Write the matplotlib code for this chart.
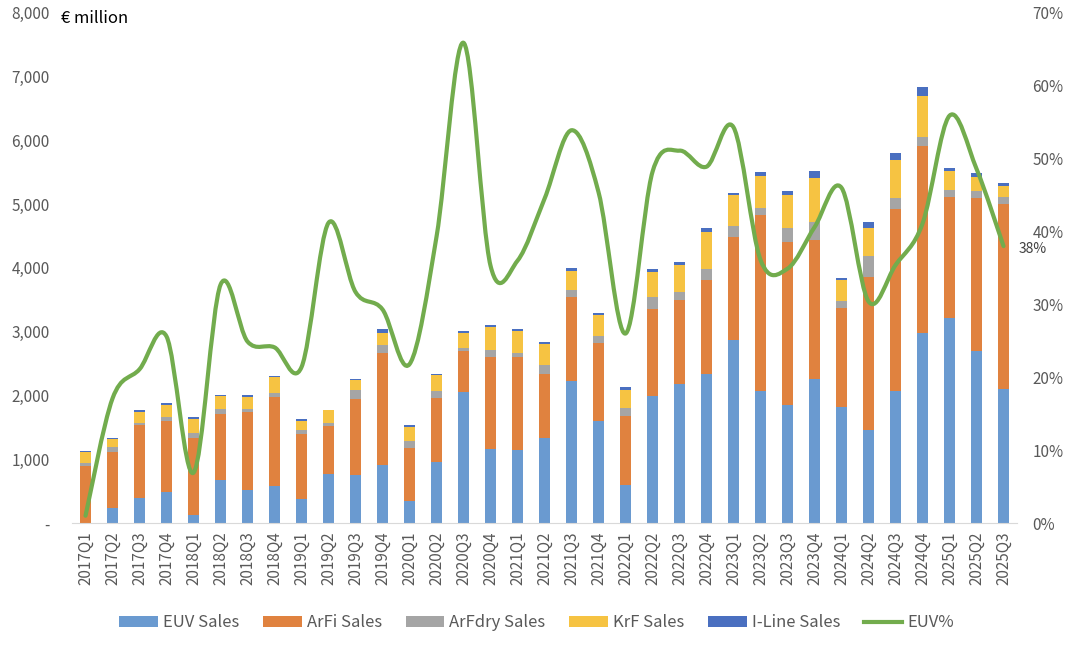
import numpy as np
import matplotlib.pyplot as plt
from matplotlib.path import Path
from matplotlib.patches import PathPatch
from matplotlib.lines import Line2D
from matplotlib.ticker import FuncFormatter

plt.rcParams['font.family'] = ['Noto Sans CJK SC', 'DejaVu Sans']

# Quarterly lithography system sales (€ million)
quarters = ['2017Q1', '2017Q2', '2017Q3', '2017Q4', '2018Q1', '2018Q2', '2018Q3', '2018Q4',
            '2019Q1', '2019Q2', '2019Q3', '2019Q4', '2020Q1', '2020Q2', '2020Q3', '2020Q4',
            '2021Q1', '2021Q2', '2021Q3', '2021Q4', '2022Q1', '2022Q2', '2022Q3', '2022Q4',
            '2023Q1', '2023Q2', '2023Q3', '2023Q4', '2024Q1', '2024Q2', '2024Q3', '2024Q4',
            '2025Q1', '2025Q2', '2025Q3']

euv = [0, 230, 385, 487, 120, 676, 525, 585, 373, 763, 746, 914, 346, 963, 2055, 1157,
       1141, 1330, 2228, 1595, 595, 1990, 2185, 2336, 2877, 2071, 1855, 2261, 1812, 1460,
       2071, 2985, 3218, 2693, 2109]
arfi = [900, 885, 1150, 1110, 1215, 1030, 1215, 1385, 1017, 762, 1196, 1747, 838, 995, 644,
        1444, 1466, 1006, 1320, 1223, 1076, 1374, 1314, 1471, 1612, 2753, 2547, 2174, 1557,
        2391, 2851, 2921, 1893, 2407, 2894]
arfdry = [40, 70, 40, 65, 70, 80, 55, 70, 65, 38, 150, 135, 109, 119, 38, 119, 59, 146, 113,
          108, 135, 173, 130, 184, 162, 114, 217, 281, 119, 340, 178, 151, 119, 108, 108]
krf = [170, 125, 165, 190, 225, 205, 180, 245, 150, 205, 146, 180, 205, 243, 248, 352, 346,
       325, 298, 341, 282, 406, 422, 574, 487, 508, 530, 692, 319, 428, 590, 638, 286, 222, 168]
iline = [20, 20, 30, 30, 40, 20, 27, 20, 27, 11, 27, 65, 38, 22, 27, 32, 28, 32, 38, 32, 43,
         43, 43, 54, 43, 54, 54, 108, 33, 97, 113, 147, 55, 59, 59]

# EUV share of litho sales (%)
euv_pct = [1, 17.1, 21.1, 25.6, 6.9, 32.7, 24.9, 24.1, 21.4, 41.2, 31.7, 29.3, 21.8, 39.3,
           65.9, 35.3, 36.0, 44.5, 53.9, 45.4, 26.0, 48.2, 51.1, 48.9, 54.3, 36.1, 34.9,
           40.6, 46.0, 30.4, 35.4, 41.1, 55.9, 48.6, 38.0]

series_names = ['EUV Sales', 'ArFi Sales', 'ArFdry Sales', 'KrF Sales', 'I-Line Sales']
colors = ['#6A9AD0', '#E0823F', '#A5A5A5', '#F6C342', '#4A6FC0']
green = '#72AC4D'
gray = '#595959'

fig = plt.figure(figsize=(10.8, 6.46), dpi=100)
ax = fig.add_axes([0.0667, 0.1904, 0.875, 0.7896])
ax2 = ax.twinx()

x = np.arange(len(quarters))
bottom = np.zeros(len(quarters))
for vals, name, c in zip([euv, arfi, arfdry, krf, iline], series_names, colors):
    ax.bar(x, vals, width=0.4, bottom=bottom, color=c, label=name, zorder=2)
    bottom += np.array(vals)

ax.set_xlim(-0.5, len(quarters) - 0.5)
ax.set_ylim(0, 8000)
ax.set_yticks(range(0, 8001, 1000))
ax.yaxis.set_major_formatter(FuncFormatter(lambda v, p: '-' if v == 0 else f'{int(v):,}'))
ax.set_xticks(x)
ax.set_xticklabels(quarters, rotation=90)
ax.tick_params(axis='both', length=0, colors=gray, labelsize=11)
ax.tick_params(axis='x', pad=6)
ax.tick_params(axis='y', pad=16)
for s in ['top', 'right', 'left']:
    ax.spines[s].set_visible(False)
ax.spines['bottom'].set_color('#D9D9D9')

# smoothed EUV% line (Catmull-Rom style bezier, like Excel's smoothed line)
pts = np.column_stack([x, euv_pct]).astype(float)
ext = np.vstack([pts[0], pts, pts[-1]])
verts = [tuple(pts[0])]
codes = [Path.MOVETO]
for i in range(len(pts) - 1):
    p0, p1, p2, p3 = ext[i], ext[i + 1], ext[i + 2], ext[i + 3]
    c1 = p1 + (p2 - p0) / 6
    c2 = p2 - (p3 - p1) / 6
    verts += [tuple(c1), tuple(c2), tuple(p2)]
    codes += [Path.CURVE4] * 3
ax2.add_patch(PathPatch(Path(verts, codes), fill=False, edgecolor=green, lw=3,
                        capstyle='round', joinstyle='round', zorder=3))
ax2.set_ylim(0, 70)
ax2.set_yticks(range(0, 71, 10))
ax2.yaxis.set_major_formatter(FuncFormatter(lambda v, p: f'{int(v)}%'))
ax2.tick_params(axis='y', length=0, colors=gray, labelsize=11, pad=11)
for s in ax2.spines.values():
    s.set_visible(False)

ax2.annotate(f'{euv_pct[-1]:.0f}%', xy=(x[-1], euv_pct[-1]), xytext=(11, -2),
             textcoords='offset points', ha='left', va='center', fontsize=10, color='#404040')

fig.text(0.0565, 0.972, '€ million', fontsize=12, color='black', va='center', ha='left')

handles, labels = ax.get_legend_handles_labels()
handles.append(Line2D([0], [0], color=green, lw=3))
labels.append('EUV%')
fig.legend(handles, labels, loc='center', bbox_to_anchor=(0.497, 0.036), ncol=6,
           frameon=False, fontsize=12, labelcolor=gray, handlelength=2.3,
           handleheight=0.6, handletextpad=0.3, columnspacing=1.45)

fig.savefig('out.png', dpi=100)
